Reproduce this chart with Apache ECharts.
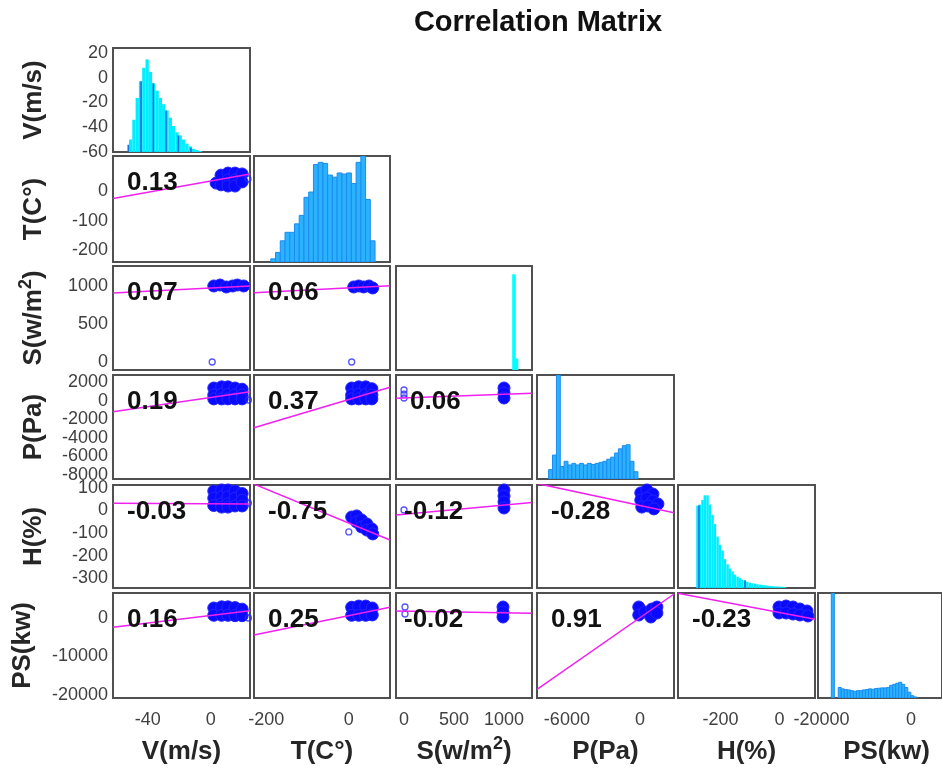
<!DOCTYPE html>
<html>
<head>
<meta charset="utf-8">
<script src="https://cdn.jsdelivr.net/npm/echarts@6/dist/echarts.min.js"></script>
<style>
  html, body { margin: 0; padding: 0; background: #fff; }
  #chart { width: 942px; height: 772px; }
</style>
</head>
<body>
<div id="chart"></div>
<script>
// ---- variables (row / column order) ----
var varNames = ['V(m/s)', 'T(C°)', 'S(w/m{sup|2})', 'P(Pa)', 'H(%)', 'PS(kw)'];
var xRanges = [[-62, 25], [-230, 100], [-80, 1280], [-8450, 2780], [-344, 120], [-20800, 6900]];
var yRanges = [[-60, 24], [-240, 120], [-105, 1263], [-8450, 2780], [-344, 113], [-20800, 6500]];
var xTicks = [[-40, 0], [-200, 0], [0, 500, 1000], [-6000, 0], [-200, 0], [-20000, 0]];
var yTicks = [[-60, -40, -20, 0, 20], [-200, -100, 0], [0, 500, 1000],
  [-8000, -6000, -4000, -2000, 0, 2000], [-300, -200, -100, 0, 100], [-20000, -10000, 0]];

// correlation coefficients, lower triangle
var corr = [[], [0.13], [0.07, 0.06], [0.19, 0.37, 0.06],
  [-0.03, -0.75, -0.12, -0.28], [0.16, 0.25, -0.02, 0.91, -0.23]];

// least squares lines, end points [x, y]
var fitLines = [
  [],
  [[[-62, -24], [25, 59]]],
  [[[-62, 908], [25, 1000]], [[-230, 912], [100, 1004]]],
  [[[-62, -1184], [25, 976]], [[-230, -2912], [100, 1452]], [[-80, 264], [1280, 804]]],
  [[[-62, 32], [25, 29]], [[-230, 117], [100, -131]], [[-80, -20], [1280, 35]], [[-8450, 120], [2780, -10]]],
  [[[-62, -2418], [25, 1898]], [[-230, -4420], [100, 2782]], [[-80, 1820], [1280, 1222]],
   [[-8450, -18540], [2780, 6240]], [[-344, 6420], [120, -340]]]
];

// scatter clouds
var blobPts = [
  [],
  [[[3.5, 28], [6.6, 55], [6.6, 22], [11, 62], [11, 38], [11, 18], [15.5, 62], [15.5, 38], [15.5, 18], [20, 59], [20, 32]]],
  [[[2, 1000], [6, 1013], [10, 987], [14, 1000], [17, 1013], [21, 1000]],
   [[12, 987], [24, 1000], [36, 987], [49, 1000], [58, 974]]],
  [[[2, 1376], [2, 620], [2, 200], [7, 1500], [7, 700], [7, 200], [11, 1500], [11, 700], [11, 200],
    [15.5, 1376], [15.5, 620], [15.5, 200], [20, 1250], [20, 620], [20, 200]],
   [[7, 1376], [7, 620], [7, 200], [24, 1500], [24, 700], [24, 200], [41, 1500], [41, 700], [41, 200],
    [56, 1300], [56, 620], [56, 200]],
   [[1000, 1376], [1000, 836], [1000, 296]]],
  [[[2, 86], [2, 55], [2, 22], [7, 91], [7, 60], [7, 29], [7, 15], [11, 91], [11, 60], [11, 29], [11, 15],
    [15.5, 86], [15.5, 55], [15.5, 20], [20, 75], [20, 45], [20, 20]],
   [[7, -29], [19, -24], [19, -51], [31, -42], [31, -73], [44, -60], [44, -87], [56, -82], [58, -104]],
   [[1000, 91], [1000, 64], [1000, 38], [1000, 11]],
   [[58, 78], [553, 91], [1049, 73], [58, 46], [553, 55], [1049, 42], [1462, 29], [140, 15], [636, 20], [1132, 7]]],
  [[[2, 2600], [2, 700], [7, 2900], [7, 700], [11, 2900], [11, 700], [15.5, 2700], [15.5, 600], [20, 2300], [20, 600]],
   [[7, 2800], [7, 700], [24, 3100], [24, 700], [41, 3100], [41, 700], [57, 2600], [57, 800]],
   [[990, 2860], [990, 1560], [990, 260]],
   [[-108, 2860], [-108, 780], [388, 1560], [884, 260], [966, 2340], [1379, 2860], [1379, 1300]],
   [[-2, 2860], [22, 3120], [45.5, 2860], [69, 2340], [93, 1820], [-2, 1300], [22, 1300], [45.5, 1040], [69, 780], [96, 520]]]
];
var outlierPts = [
  [],
  [[[23.7, 42]]],
  [[[1, 0]], [[7, 0]]],
  [[[24, 80]], [], [[0, 1160], [0, 700], [0, 296]]],
  [[[24, 33]], [[0, -95]], [[0, 2]], []],
  [[[24, 0]], [], [[10, 2860], [10, 1040]], [], []]
];

// histograms on the diagonal: bin centres and heights (% of panel)
var vHistX = [-50.8, -48.7, -46.6, -44.5, -42.4, -40.3, -38.2, -36.1, -34, -31.9, -29.8, -27.7, -25.6, -23.5, -21.4, -19.3, -17.2, -15.1, -13, -10.9, -8.8, -6.7];
var vHistY = [12, 31, 52, 68, 81, 89, 77, 66, 59, 52, 46, 40, 33, 25, 19, 16, 12, 8, 5.5, 3, 2, 1];
var vEdgeX = [-52.3, -44.2, -36.4, -28.3, -20.5, -12.5];
var vEdgeY = [7, 68, 66, 40, 16, 4];
var tHistX = [-183.5, -172, -160.5, -149, -137.5, -126, -114.5, -103, -91.5, -80, -68.5, -57, -45.5, -34, -22.5, -11, 0.5, 12, 23.5, 35, 46.5, 58];
var tHistY = [3, 9, 20, 28, 28, 36, 44, 61, 66, 92, 94, 93, 82, 80, 84, 83, 84, 74, 94, 100, 59, 20];
var sHistX = [1100, 1125];
var sHistY = [92, 11];
var pHistX = [-7340, -7020, -6700, -6390, -6070, -5750, -5430, -5120, -4800, -4480, -4160, -3840, -3520, -3210, -2890, -2570, -2250, -1930, -1620, -1300, -980, -660, -340];
var pHistY = [9, 23, 100, 12, 17, 13.5, 15, 13.5, 15, 13.5, 15, 14, 15, 16, 17, 19, 21, 25, 29, 32, 33, 17, 7];
var hHistX = [-278, -270, -261, -253, -244, -236, -227, -219, -210, -202, -193, -185, -176, -168, -159, -151, -142, -134, -126, -117, -109, -100, -92, -83, -75, -66, -58, -49, -41, -32, -24, -15.5, -7, 1.4, 9.9, 18.4];
var hHistY = [80, 81, 85.5, 90, 90, 81, 71, 62, 50, 42, 36.5, 28, 23, 19, 16, 13, 11, 9.5, 8, 7, 6, 5.2, 4.6, 4.2, 3.7, 3.3, 3, 2.7, 2.3, 2, 1.8, 1.6, 1.5, 1.3, 1.2, 0.8];
var hEdgeX = [-273, -117];
var hEdgeY = [80, 7.5];
var psHistX = [-17490, -15940, -15260, -14590, -13910, -13240, -12560, -11880, -11210, -10530, -9860, -9180, -8510, -7830, -7160, -6480, -5810, -5130, -4450, -3780, -3100, -2430, -1750, -1080, -400, 270, 950];
var psHistY = [100, 10, 8.7, 8, 7.7, 7, 6.4, 7, 7, 7.7, 8, 8.7, 8.3, 9, 9.3, 9.6, 9.6, 10, 12, 13, 14, 15, 13, 10, 5.5, 2.2, 1];

var histX = [vHistX, tHistX, sHistX, pHistX, hHistX, psHistX];
var histY = [vHistY, tHistY, sHistY, pHistY, hHistY, psHistY];
var binW = [2.1, 11.5, 36, 318, 8.47, 676];
var edgeX = [vEdgeX, null, null, null, hEdgeX, null];
var edgeY = [vEdgeY, null, null, null, hEdgeY, null];

// ---- layout ----
var gLeft = [113, 254, 396, 537, 678, 818];
var gWidth = [137, 136, 136, 137, 137, 137];
var gTop = [48, 156, 266, 375, 485, 593];
var gHeight = [104, 106, 104, 104, 103, 105];
var histFill = ['#00eeff', '#2ab2ff', '#00ffff', '#2ab2ff', '#00eeff', '#2ab2ff'];
var histStroke = [null, '#1b8cf0', null, '#1b8cf0', null, '#1b8cf0'];
var FONT = 'Liberation Sans';

function pairs(xs, ys) {
  return xs.map(function (x, k) { return [x, ys[k]]; });
}
function histRender(w, fill, stroke) {
  return function (params, api) {
    var c = api.value(0), h = api.value(1);
    var a = api.coord([c - w / 2, 0]);
    var b = api.coord([c + w / 2, h]);
    return {
      type: 'rect',
      shape: { x: a[0], y: b[1], width: b[0] - a[0], height: a[1] - b[1] },
      style: { fill: fill, stroke: stroke, lineWidth: stroke ? 1 : 0 }
    };
  };
}
function edgeRender(params, api) {
  var a = api.coord([api.value(0), 0]);
  var b = api.coord([api.value(0), api.value(1)]);
  return { type: 'line', shape: { x1: a[0], y1: a[1], x2: b[0], y2: b[1] },
    style: { stroke: '#1f6fe0', lineWidth: 1.6 } };
}
function plain(v) { return String(v); }

var grids = [], xAxes = [], yAxes = [], series = [], elements = [];

for (var i = 0; i < 6; i++) {
  for (var j = 0; j <= i; j++) {
    var gi = grids.length;
    grids.push({ left: gLeft[j], top: gTop[i], width: gWidth[j], height: gHeight[i],
      show: true, borderColor: '#505050', borderWidth: 2 });
    xAxes.push({
      type: 'value', gridIndex: gi, min: xRanges[j][0], max: xRanges[j][1],
      axisLine: { show: false }, axisTick: { show: false }, splitLine: { show: false },
      axisLabel: i === 5 ? { show: true, customValues: xTicks[j], formatter: plain,
        fontFamily: FONT, fontSize: 18, color: '#404040', margin: 13 } : { show: false }
    });
    var xi = xAxes.length - 1;
    yAxes.push({
      type: 'value', gridIndex: gi, min: yRanges[i][0], max: yRanges[i][1],
      axisLine: { show: false }, axisTick: { show: false }, splitLine: { show: false },
      axisLabel: j === 0 ? { show: true, customValues: yTicks[i], formatter: plain,
        fontFamily: FONT, fontSize: 18, color: '#404040', margin: 5 } : { show: false }
    });
    var yi = yAxes.length - 1;

    if (i === j) {
      yAxes.push({ type: 'value', gridIndex: gi, min: 0, max: 100, show: false,
        splitLine: { show: false } });
      var ci = yAxes.length - 1;
      series.push({
        type: 'custom', xAxisIndex: xi, yAxisIndex: ci, clip: true,
        renderItem: histRender(binW[i], histFill[i], histStroke[i]),
        encode: { x: 0, y: 1 }, data: pairs(histX[i], histY[i])
      });
      if (edgeX[i]) {
        series.push({
          type: 'custom', xAxisIndex: xi, yAxisIndex: ci, clip: true,
          renderItem: edgeRender, encode: { x: 0, y: 1 }, data: pairs(edgeX[i], edgeY[i])
        });
      }
    } else {
      series.push({
        type: 'scatter', xAxisIndex: xi, yAxisIndex: yi, symbolSize: 12,
        itemStyle: { color: '#0a0aff', borderColor: '#2424ff', borderWidth: 1, opacity: 1 },
        data: blobPts[i][j]
      });
      series.push({
        type: 'scatter', xAxisIndex: xi, yAxisIndex: yi, symbolSize: 6,
        itemStyle: { color: 'rgba(0,0,0,0)', borderColor: '#2b2bff', borderWidth: 1.3 },
        data: outlierPts[i][j]
      });
      series.push({
        type: 'line', xAxisIndex: xi, yAxisIndex: yi, symbol: 'none', clip: true,
        lineStyle: { color: '#f020f0', width: 1.5 }, data: fitLines[i][j], z: 3
      });
      var off = (j === 2 && corr[i][j] < 0) ? 8 : 14;
      elements.push({
        type: 'text', x: gLeft[j] + off, y: gTop[i] + 27, z: 100,
        style: { text: corr[i][j].toFixed(2), fontFamily: FONT, fontSize: 26, fontWeight: 'bold',
          fill: '#111', align: 'left', verticalAlign: 'middle' }
      });
    }
  }
}

var nameRich = { sup: { fontFamily: FONT, fontSize: 18, fontWeight: 'bold', fill: '#262626',
  verticalAlign: 'top', lineHeight: 18 } };
for (var k = 0; k < 6; k++) {
  // row names (left, rotated)
  elements.push({
    type: 'text', x: k === 5 ? 23 : 34, y: gTop[k] + gHeight[k] / 2, rotation: Math.PI / 2, z: 100,
    style: { text: varNames[k], fontFamily: FONT, fontSize: 26, fontWeight: 'bold', fill: '#262626',
      lineHeight: 34, align: 'center', verticalAlign: 'middle', rich: nameRich }
  });
  // column names (bottom)
  elements.push({
    type: 'text', x: gLeft[k] + gWidth[k] / 2, y: 752, z: 100,
    style: { text: varNames[k], fontFamily: FONT, fontSize: 26, fontWeight: 'bold', fill: '#262626',
      lineHeight: 34, align: 'center', verticalAlign: 'middle', rich: nameRich }
  });
}
elements.push({
  type: 'text', x: 538, y: 23, z: 100,
  style: { text: 'Correlation Matrix', fontFamily: FONT, fontSize: 29, fontWeight: 'bold',
    fill: '#111', align: 'center', verticalAlign: 'middle' }
});

var chart = echarts.init(document.getElementById('chart'));
chart.setOption({
  animation: false,
  backgroundColor: '#fff',
  textStyle: { fontFamily: FONT },
  grid: grids,
  xAxis: xAxes,
  yAxis: yAxes,
  series: series,
  graphic: { elements: elements }
});
</script>
</body>
</html>
